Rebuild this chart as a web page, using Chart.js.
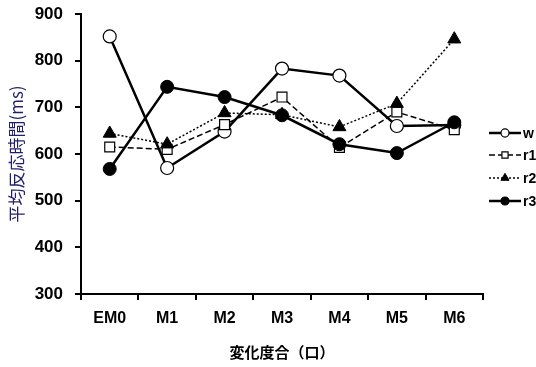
<!DOCTYPE html>
<html>
<head>
<meta charset="utf-8">
<script src="https://cdn.jsdelivr.net/npm/chart.js@4"></script>
<style>
html,body{margin:0;padding:0;background:#fff;}
#wrap{width:536px;height:367px;position:relative;}
</style>
</head>
<body>
<div id="wrap"><canvas id="c" width="536" height="367"></canvas></div>
<script>
const categories = ["EM0","M1","M2","M3","M4","M5","M6"];
const seriesNames = ["w","r1","r2","r3"];
const wValues  = [852, 570, 648, 783, 768, 660, 662];
const r1Values = [615, 610, 663, 722, 614, 690, 652];
const r2Values = [644, 621, 688, 684, 658, 708, 846];
const r3Values = [568, 744, 722, 683, 621, 602, 668];
const yTicks = [300, 400, 500, 600, 700, 800, 900];

const datasets = [
  {label: seriesNames[0], data: wValues, borderColor:'#000', borderWidth:2.5, pointStyle:'circle', pointRadius:6.5, pointBackgroundColor:'#fff', pointBorderColor:'#000', pointBorderWidth:1.2, order:4, borderDash:[]},
  {label: seriesNames[1], data: r1Values, borderColor:'#000', borderWidth:1.5, borderDash:[6,3], pointStyle:'rect', pointRadius:7, pointBackgroundColor:'#fff', pointBorderColor:'#000', pointBorderWidth:1.2, order:3},
  {label: seriesNames[2], data: r2Values, borderColor:'#000', borderWidth:1.5, borderDash:[2,2], pointStyle:'triangle', pointRadius:7.5, pointBackgroundColor:'#000', pointBorderColor:'#000', pointBorderWidth:1, order:2},
  {label: seriesNames[3], data: r3Values, borderColor:'#000', borderWidth:2.5, pointStyle:'circle', pointRadius:6.5, pointBackgroundColor:'#000', pointBorderColor:'#000', pointBorderWidth:1, order:1, borderDash:[]}
];
datasets.forEach(d => { d.tension = 0; d.fill = false; d.pointHoverRadius = d.pointRadius; });

const legendPlugin = {
  id: 'customLegend',
  afterDraw(chart) {
    const ctx = chart.ctx;
    const x0 = 489;
    const ys = [133, 155, 178, 201];
    const lineEnd = 521;
    chart.data.datasets.forEach((d, i) => {
      const y = ys[i];
      ctx.save();
      ctx.strokeStyle = '#000';
      ctx.lineWidth = d.borderWidth;
      ctx.setLineDash(d.borderDash || []);
      ctx.beginPath(); ctx.moveTo(x0, y); ctx.lineTo(lineEnd, y); ctx.stroke();
      ctx.setLineDash([]);
      const px = (x0 + lineEnd) / 2;
      const opts = {pointStyle: d.pointStyle, radius: d.pointRadius * 0.62, borderWidth: d.pointBorderWidth};
      ctx.fillStyle = d.pointBackgroundColor;
      ctx.strokeStyle = d.pointBorderColor;
      ctx.lineWidth = d.pointBorderWidth;
      Chart.helpers.drawPoint(ctx, opts, px, y);
      ctx.fillStyle = '#000';
      ctx.font = 'bold 14px "Liberation Sans", Arial, sans-serif';
      ctx.textBaseline = 'middle';
      ctx.textAlign = 'left';
      ctx.fillText(d.label, lineEnd + 2, y + 1);
      ctx.restore();
    });
  }
};

new Chart(document.getElementById('c'), {
  type: 'line',
  data: {labels: categories, datasets: datasets},
  options: {
    responsive: false,
    animation: false,
    devicePixelRatio: 1,
    layout: {padding: {top: 14, right: 53, left: 4, bottom: 0}},
    plugins: {legend: {display: false}, tooltip: {enabled: false}},
    scales: {
      x: {
        type: 'category',
        offset: true,
        grid: {offset: true, drawOnChartArea: false, drawTicks: true, tickLength: 6, color: '#000', lineWidth: 2},
        border: {display: true, color: '#000', width: 2},
        ticks: {color: '#000', font: {family: '"Liberation Sans", Arial, sans-serif', size: 16, weight: 'bold'}, padding: 9, maxRotation: 0},
        title: {display: true, text: '変化度合（口）', color: '#000', font: {family: '"Noto Sans CJK JP", sans-serif', size: 15, weight: 'bold'}, padding: {top: 4, bottom: 6}},
        afterFit(s) { s.height = 73; s.paddingLeft = 0; s.paddingRight = 0; }
      },
      y: {
        min: 300, max: 900,
        afterBuildTicks(s) { s.ticks = yTicks.map(v => ({value: v})); },
        grid: {drawOnChartArea: false, drawTicks: true, tickLength: 6, color: '#000', lineWidth: 2},
        border: {display: true, color: '#000', width: 2},
        ticks: {color: '#000', font: {family: '"Liberation Sans", Arial, sans-serif', size: 17, weight: 'bold'}, padding: 12},
        title: {display: true, text: '平均反応時間(ms)', color: '#1f1f6b', font: {family: '"Noto Sans CJK JP", sans-serif', size: 17}, padding: {top: 2, bottom: 0}},
        afterFit(s) { s.width = 77; s.paddingTop = 0; s.paddingBottom = 0; }
      }
    }
  },
  plugins: [legendPlugin]
});
</script>
</body>
</html>
